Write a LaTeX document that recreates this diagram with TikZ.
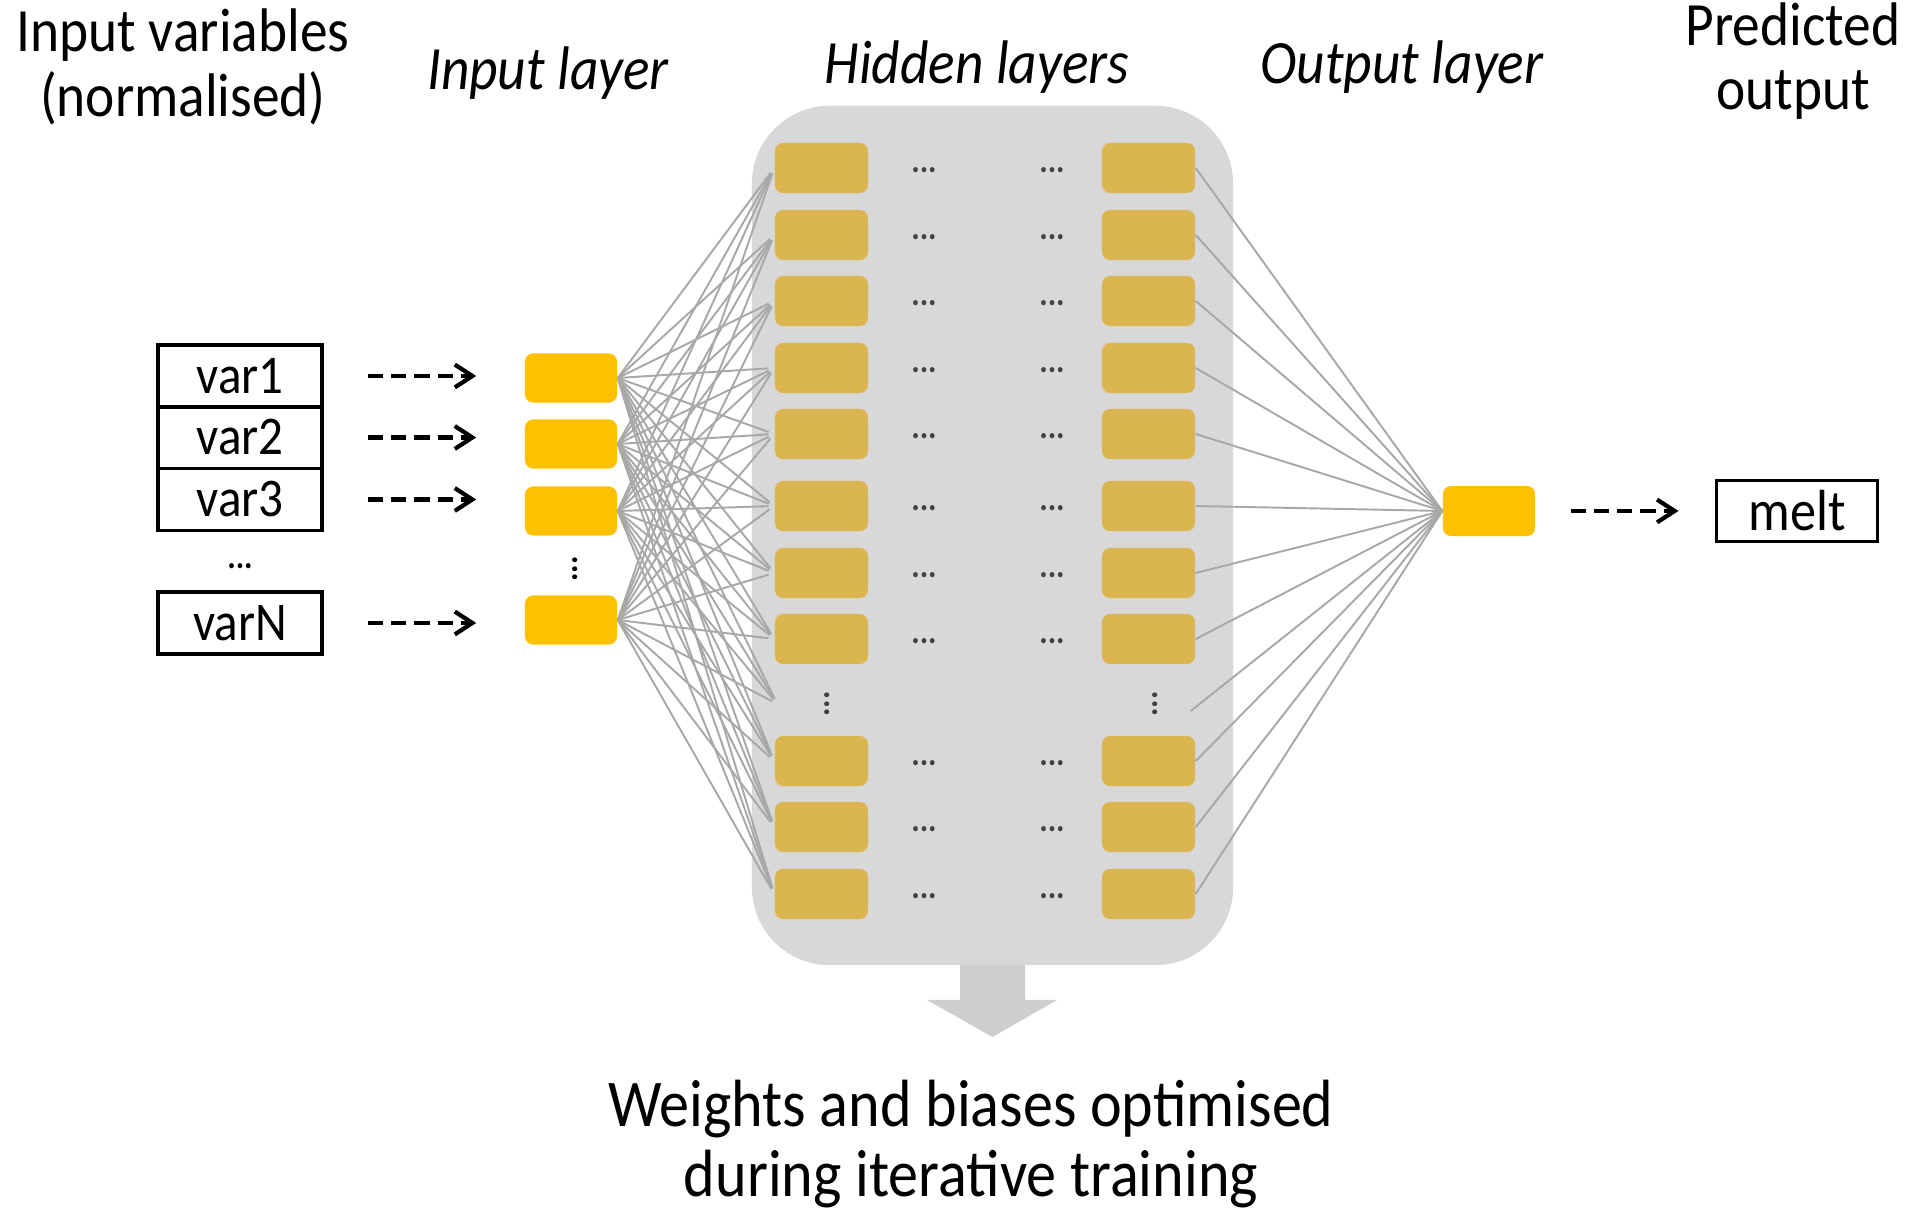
\documentclass[tikz,border=0pt]{standalone}
\usepackage{fontspec}
\setmainfont{Carlito}[FakeStretch=0.9]
\usetikzlibrary{arrows.meta}

\definecolor{gold}{RGB}{255,192,0}
\definecolor{mustard}{RGB}{219,182,80}
\definecolor{panelgray}{RGB}{217,216,217}
\definecolor{arrowgray}{RGB}{207,206,205}
\definecolor{linkgray}{RGB}{168,168,168}
\definecolor{dotgray}{RGB}{64,64,64}

\newcommand{\hdotsml}{\fontsize{10}{10}\selectfont\bfseries ...}

\begin{document}
\begin{tikzpicture}[
    x=0.01cm, y=-0.01cm,
    >={Straight Barb[length=5pt,width=6.5pt]},
    inlayer/.style={
        fill=gold,
        rounded corners=0.8mm,
        minimum width=0.92cm,
        minimum height=0.49cm,
        inner sep=0pt
    },
    hidden/.style={
        fill=mustard,
        rounded corners=0.8mm,
        minimum width=0.93cm,
        minimum height=0.5cm,
        inner sep=0pt
    },
    gap/.style={
        rotate=90,
        inner sep=1pt,
        text=dotgray
    },
    tip/.style={
        inner sep=0pt,
        minimum size=0pt
    },
    varbox/.style={
        draw,
        line width=1.1pt,
        minimum width=1.64cm,
        minimum height=0.62cm,
        inner sep=0pt,
        font=\fontsize{15.5}{15.5}\selectfont
    },
    title/.style={
        align=center,
        font=\fontsize{17.5}{18.4}\selectfont
    },
    layer/.style={
        font=\fontsize{17.5}{17.4}\selectfont\itshape
    },
    feed/.style={
        ->,
        dash pattern=on 4.3pt off 2.3pt,
        line width=1.2pt
    },
    link/.style={
        draw=linkgray,
        line width=0.55pt
    }
]
    \useasboundingbox (0,0) rectangle (1911,1210);

    % Panel behind the hidden layers
    \node[fill=panelgray, rounded corners=7.8mm, minimum width=4.81cm,
        minimum height=8.59cm, inner sep=0pt] (panel) at (992.5,535.5) {};
    \fill[arrowgray] (960,965) -- (1025,965) -- (1025,1000) -- (1057,1000)
        -- (992.5,1037) -- (927,1000) -- (960,1000) -- cycle;

    % Titles
    \node[title] (invars) at (183,67) {Input variables\\(normalised)};
    \node[layer] (inlab) at (548,73) {Input layer};
    \node[layer] (hidlab) at (977,67) {Hidden layers};
    \node[layer] (outlab) at (1402,67) {Output layer};
    \node[title] (predlab) at (1793,61) {Predicted\\output};
    \node[title, font=\fontsize{19}{20}\selectfont] (trainlab) at (971,1144)
    {Weights and biases optimised\\during iterative training};

    % Input variables
    \node[varbox] (v1) at (240,376) {var1};
    \node[varbox] (v2) at (240,437.5) {var2};
    \node[varbox] (v3) at (240,499.5) {var3};
    \node (vdots) at (240,566) {\hdotsml};
    \node[varbox] (v4) at (240,623) {varN};

    % Input layer
    \node[inlayer] (i1) at (571,378) {};
    \node[inlayer] (i2) at (571,444) {};
    \node[inlayer] (i3) at (571,511) {};
    \node[gap, text=black] (idots) at (575,569) {\hdotsml};
    \node[inlayer] (i4) at (571,620) {};

    % Hidden layers
    \foreach \n/\y in {1/168,2/235,3/301,4/368,5/434,6/506,7/573,8/639,10/761,11/827,12/894} {
        \node[hidden] (hl\n) at (821.5,\y) {};
        \node[hidden] (hr\n) at (1148.5,\y) {};
        \node[text=dotgray] (dl\n) at (924,\y+2) {\hdotsml};
        \node[text=dotgray] (dr\n) at (1052,\y+2) {\hdotsml};
    }
    \node[gap] (vl9) at (827,704) {\hdotsml};
    \node[gap] (vr9) at (1155,704) {\hdotsml};
    \node[tip] (hl9) at (778,704) {};
    \node[tip] (hr9) at (1190,711) {};

    % Output layer and prediction
    \node[inlayer, minimum height=0.5cm] (o) at (1489,511) {};
    \node[varbox, minimum width=1.61cm, minimum height=0.61cm,
        font=\fontsize{16.5}{16.5}\selectfont] (melt) at (1797,511) {melt};

    % Arrows
    \foreach \k in {1,2,3,4}
        \draw[feed, shorten <=0.44cm, shorten >=0.48cm] (v\k.east) -- (v\k.east -| i\k.west);
    \draw[feed, shorten <=0.35cm, shorten >=0.36cm] (o.east) -- (melt.west);

    % Weights
    \foreach \k in {1,2,3,4}
        \foreach \n in {1,...,12}
            \draw[link, shorten >=0.06cm] (i\k.east) -- (hl\n.west);
    \foreach \n in {1,...,12}
        \draw[link] (hr\n.east) -- (o.west);

\end{tikzpicture}
\end{document}
